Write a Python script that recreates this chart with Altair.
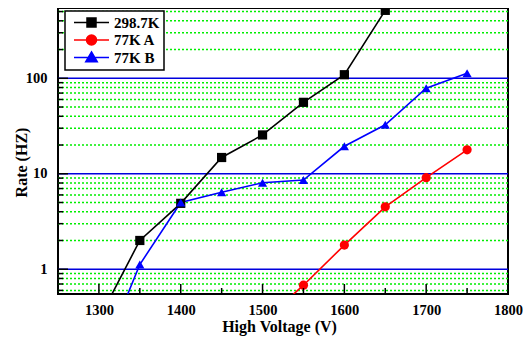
import altair as alt
import pandas as pd

FONT = "Liberation Serif"

series_names = ["298.7K", "77K A", "77K B"]
series_colors = ["#000000", "#ff0000", "#0000ff"]
point_shapes = ["square", "circle", "triangle-up"]

volt_room = [1300, 1350, 1400, 1450, 1500, 1550, 1600, 1650]
rate_room = [0.3, 2.0, 4.9, 14.8, 25.5, 56, 109, 515]

volt_a = [1500, 1550, 1600, 1650, 1700, 1750]
rate_a = [0.28, 0.68, 1.79, 4.5, 9.1, 17.8]

volt_b = [1300, 1350, 1400, 1450, 1500, 1550, 1600, 1650, 1700, 1750]
rate_b = [0.1, 1.12, 5.0, 6.4, 8.05, 8.6, 19.4, 32.6, 78.7, 113]

grid_major = [1, 10, 100]
grid_minor = [0.6, 0.7, 0.8, 0.9, 2, 3, 4, 5, 6, 7, 8, 9,
              20, 30, 40, 50, 60, 70, 80, 90, 200, 300, 400, 500]
x_labels = [1300, 1400, 1500, 1600, 1700, 1800]
x_minor = [1350, 1450, 1550, 1650, 1750]

rows = []
for name, vs, rs in [(series_names[0], volt_room, rate_room),
                     (series_names[1], volt_a, rate_a),
                     (series_names[2], volt_b, rate_b)]:
    for v, r in zip(vs, rs):
        rows.append({"series": name, "volt": v, "rate": r})
df = pd.DataFrame(rows)

W, H = 450, 286

xscale = alt.Scale(domain=[1250, 1800], nice=False, zero=False)
yscale = alt.Scale(type="log", domain=[0.55, 545], nice=False)

x_axis = alt.Axis(
    values=x_labels, format="d", title="High Voltage (V)",
    domain=False, ticks=False, tickSize=0, grid=False,
    labelFont=FONT, labelFontSize=14.5, labelFontWeight="bold", labelColor="black",
    labelPadding=9, labelFlush=False, labelOverlap=False,
    titleFont=FONT, titleFontSize=16, titleFontWeight="bold", titleColor="black",
    titleX=221, titleY=32, titleAlign="center", titleBaseline="middle",
)
y_axis = alt.Axis(
    values=grid_major, format="d", title="Rate (HZ)",
    domain=False, ticks=False, tickSize=0, grid=False,
    labelFont=FONT, labelFontSize=14.5, labelFontWeight="bold", labelColor="black",
    labelPadding=11, labelFlush=False, labelOverlap=False,
    titleFont=FONT, titleFontSize=16, titleFontWeight="bold", titleColor="black",
    titleX=-37, titleY=154, titleAngle=270, titleAlign="center", titleBaseline="middle",
)

color_scale = alt.Scale(domain=series_names, range=series_colors)

green = alt.Chart(pd.DataFrame({"v": grid_minor})).mark_rule(
    color="#00ee00", strokeWidth=1.5, strokeDash=[2, 2]
).encode(y=alt.Y("v:Q", scale=yscale, axis=y_axis))

blue = alt.Chart(pd.DataFrame({"v": grid_major})).mark_rule(
    color="#0000dd", strokeWidth=1.6
).encode(y=alt.Y("v:Q", scale=yscale, axis=y_axis))

lines = alt.Chart(df).mark_line(clip=True, strokeWidth=1.6).encode(
    x=alt.X("volt:Q", scale=xscale, axis=x_axis),
    y=alt.Y("rate:Q", scale=yscale, axis=y_axis),
    color=alt.Color("series:N", scale=color_scale, legend=None),
    order="volt:Q",
)

points = alt.Chart(df).mark_point(clip=True, filled=True, opacity=1, size=85).encode(
    x=alt.X("volt:Q", scale=xscale, axis=x_axis),
    y=alt.Y("rate:Q", scale=yscale, axis=y_axis),
    color=alt.Color("series:N", scale=color_scale, legend=None),
    shape=alt.Shape("series:N", scale=alt.Scale(domain=series_names, range=point_shapes), legend=None),
)

# ticks pointing inward
y_ticks_major = alt.Chart(pd.DataFrame({"v": grid_major})).mark_rule(
    color="black", strokeWidth=1.5
).encode(y=alt.Y("v:Q", scale=yscale, axis=y_axis), x=alt.value(0), x2=alt.value(10))
y_ticks_minor = alt.Chart(pd.DataFrame({"v": grid_minor})).mark_rule(
    color="black", strokeWidth=1.5
).encode(y=alt.Y("v:Q", scale=yscale, axis=y_axis), x=alt.value(0), x2=alt.value(5))
x_ticks_major = alt.Chart(pd.DataFrame({"v": x_labels})).mark_rule(
    color="black", strokeWidth=1.5
).encode(x=alt.X("v:Q", scale=xscale, axis=x_axis), y=alt.value(H), y2=alt.value(H - 10))
x_ticks_minor = alt.Chart(pd.DataFrame({"v": x_minor})).mark_rule(
    color="black", strokeWidth=1.5
).encode(x=alt.X("v:Q", scale=xscale, axis=x_axis), y=alt.value(H), y2=alt.value(H - 6))

legend_paths = [
    "M-3.5,0H3.5M-0.9,-0.9H0.9V0.9H-0.9Z",
    "M-3.5,0H3.5M1,0A1,1,0,1,1,-1,0A1,1,0,1,1,1,0Z",
    "M-3.5,0H3.5M0,-1.1L1.15,0.85L-1.15,0.85Z",
]
leg = alt.Legend(orient="none", legendX=7, legendY=3, title=None,
                 labelFont=FONT, labelFontSize=15, labelFontWeight="bold", labelColor="black")
legend_layer = alt.Chart(df).transform_filter("false").mark_point(
    filled=True, opacity=1, strokeWidth=1.5
).encode(
    x=alt.X("volt:Q", scale=xscale, axis=x_axis),
    y=alt.Y("rate:Q", scale=yscale, axis=y_axis),
    fill=alt.Fill("series:N", scale=alt.Scale(domain=series_names, range=series_colors), legend=leg),
    stroke=alt.Stroke("series:N", scale=alt.Scale(domain=series_names, range=series_colors), legend=leg),
    shape=alt.Shape("series:N", scale=alt.Scale(domain=series_names, range=legend_paths), legend=leg),
)

chart = alt.layer(
    green, blue, lines, points,
    y_ticks_major, y_ticks_minor, x_ticks_major, x_ticks_minor,
    legend_layer,
).resolve_scale(
    shape="independent", fill="independent", stroke="independent"
).properties(
    width=W, height=H,
    autosize=alt.AutoSizeParams(type="none"),
    padding={"left": 50, "top": 0, "right": 15, "bottom": 46},
    background="white",
).configure_view(
    stroke="black", strokeWidth=2
).configure_legend(
    padding=4, rowPadding=0.5, symbolSize=100, symbolStrokeWidth=1.5,
    symbolOffset=15, labelOffset=15,
    labelFont=FONT, labelFontSize=15, labelFontWeight="bold", labelColor="black",
    strokeColor="black", fillColor="white", strokeWidth=1.5,
)

chart.save("out.html", embed_options={"renderer": "svg", "actions": False})
